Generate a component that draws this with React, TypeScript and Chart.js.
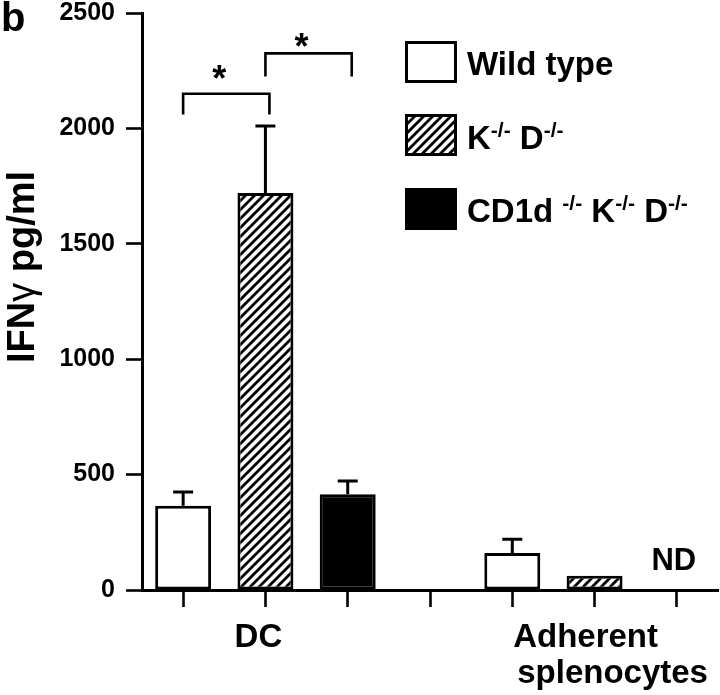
import React, { useEffect, useRef } from "react";
import { Chart, registerables } from "chart.js";

Chart.register(...registerables);

// ---------- data ----------
const categories = [
  "DC – Wild type",
  "DC – K-/- D-/-",
  "DC – CD1d -/- K-/- D-/-",
  "",
  "Adherent splenocytes – Wild type",
  "Adherent splenocytes – K-/- D-/-",
  "Adherent splenocytes – CD1d -/- K-/- D-/-",
];
const seriesNames = ["Wild type", "K-/- D-/-", "CD1d -/- K-/- D-/-"];
const wildType = [365, null, null, null, 160, null, null];
const wildTypeErr = [60, null, null, null, 60, null, null];
const kbDb = [null, 1720, null, null, null, 62, null];
const kbDbErr = [null, 290, null, null, null, 0, null];
const cd1dKbDb = [null, null, 415, null, null, null, null];
const cd1dKbDbErr = [null, null, 57, null, null, null, null];
const notDetectedSlots = [6];
const notDetectedText = "ND";
const groupLabelSlots = [1, 5];
const groupLabels = [["DC"], ["Adherent", "splenocytes"]];
const yTicks = [0, 500, 1000, 1500, 2000, 2500];
const yTitleParts = ["IFN", "γ", " pg/ml"];
const panelLetter = "b";
// significance brackets: from slot, to slot, bracket top, leg bottom, star centre (data units)
const sigFrom = [0, 1];
const sigTo = [1, 2];
const sigTop = [2150, 2325];
const sigBottom = [2060, 2225];
const sigStar = [2245, 2385];

const FONT = "'Liberation Sans', Arial, Helvetica, sans-serif";

function makeHatch(ctx: CanvasRenderingContext2D): CanvasPattern | string {
  const s = 9;
  const c = document.createElement("canvas");
  c.width = s;
  c.height = s;
  const g = c.getContext("2d")!;
  g.fillStyle = "#fff";
  g.fillRect(0, 0, s, s);
  g.strokeStyle = "#000";
  g.lineWidth = 2.8;
  g.beginPath();
  g.moveTo(-2, s + 2);
  g.lineTo(s + 2, -2);
  g.moveTo(-3, 3);
  g.lineTo(3, -3);
  g.moveTo(s - 3, s + 3);
  g.lineTo(s + 3, s - 3);
  g.stroke();
  return ctx.createPattern(c, "repeat") || "#888";
}

function splitSup(name: string) {
  const parts = name.split(/(-\/-)/).filter((p) => p !== "");
  return parts.map((p) => ({ t: p, sup: p === "-/-" }));
}

export default function App() {
  const ref = useRef<HTMLCanvasElement | null>(null);

  useEffect(() => {
    const canvas = ref.current!;
    const ctx0 = canvas.getContext("2d")!;
    const hatch = makeHatch(ctx0);
    const fills: (string | CanvasPattern)[] = ["#ffffff", hatch, "#000000"];
    const errs = [wildTypeErr, kbDbErr, cd1dKbDbErr];

    const errorBars = {
      id: "errorBars",
      afterDatasetsDraw(chart: any) {
        const ctx = chart.ctx;
        const y = chart.scales.y;
        ctx.save();
        ctx.strokeStyle = "#000";
        ctx.lineWidth = 3;
        chart.data.datasets.forEach((ds: any, di: number) => {
          const meta = chart.getDatasetMeta(di);
          ds.data.forEach((v: number | null, i: number) => {
            const e = errs[di][i];
            if (v == null || !e) return;
            const bar = meta.data[i];
            const top = y.getPixelForValue(v + e);
            ctx.beginPath();
            ctx.moveTo(bar.x, bar.y);
            ctx.lineTo(bar.x, top);
            ctx.moveTo(bar.x - 10, top);
            ctx.lineTo(bar.x + 10, top);
            ctx.stroke();
          });
        });
        ctx.restore();
      },
    };

    const decorations = {
      id: "decorations",
      afterDraw(chart: any) {
        const ctx: CanvasRenderingContext2D = chart.ctx;
        const x = chart.scales.x;
        const y = chart.scales.y;
        ctx.save();
        ctx.fillStyle = "#000";
        ctx.strokeStyle = "#000";

        // panel letter
        ctx.font = `bold 40px ${FONT}`;
        ctx.textAlign = "left";
        ctx.textBaseline = "alphabetic";
        ctx.fillText(panelLetter, 1, 31);

        // y title (rotated)
        ctx.save();
        ctx.translate(34, 363);
        ctx.rotate(-Math.PI / 2);
        let px = 0;
        yTitleParts.forEach((p, i) => {
          ctx.font = i === 1 ? `normal 38px ${FONT}` : `bold 38px ${FONT}`;
          ctx.fillText(p, px, 0);
          px += ctx.measureText(p).width;
        });
        ctx.restore();

        // x group labels
        ctx.font = `bold 33px ${FONT}`;
        ctx.textAlign = "center";
        const offs = [[-7], [-9, 18]];
        groupLabels.forEach((lines, gi) => {
          const cx = x.getPixelForValue(groupLabelSlots[gi]);
          lines.forEach((ln, li) => {
            ctx.fillText(ln, cx + offs[gi][li], 647 + li * 36);
          });
        });

        // ND
        ctx.font = `bold 31px ${FONT}`;
        notDetectedSlots.forEach((s) => {
          ctx.fillText(notDetectedText, x.getPixelForValue(s) - 3, 570);
        });

        // significance brackets
        ctx.lineWidth = 2.6;
        ctx.font = `bold 36px ${FONT}`;
        sigFrom.forEach((f, i) => {
          const x1 = x.getPixelForValue(f);
          const x2 = x.getPixelForValue(sigTo[i]) + 4;
          const yt = y.getPixelForValue(sigTop[i]);
          const yb = y.getPixelForValue(sigBottom[i]);
          ctx.beginPath();
          ctx.moveTo(x1, yb);
          ctx.lineTo(x1, yt);
          ctx.lineTo(x2, yt);
          ctx.lineTo(x2, yb);
          ctx.stroke();
          const ys = y.getPixelForValue(sigStar[i]);
          const m = ctx.measureText("*");
          const asc = m.actualBoundingBoxAscent;
          const desc = m.actualBoundingBoxDescent;
          ctx.textAlign = "center";
          ctx.fillText("*", (x1 + x2) / 2 - 7, ys + (asc - desc) / 2);
        });

        // legend
        const boxX = 405;
        const boxW = 52;
        const boxH = 42;
        const boxTops = [41, 114, 188];
        const baselines = [75, 149, 222];
        seriesNames.forEach((name, i) => {
          const top = boxTops[i];
          ctx.fillStyle = fills[i] as any;
          ctx.fillRect(boxX, top, boxW, boxH);
          ctx.lineWidth = 3;
          ctx.strokeStyle = "#000";
          ctx.strokeRect(boxX + 1.5, top + 1.5, boxW - 3, boxH - 3);
          ctx.fillStyle = "#000";
          ctx.textAlign = "left";
          let tx = 467;
          splitSup(name).forEach((seg) => {
            if (seg.sup) {
              ctx.font = `bold 21px ${FONT}`;
              ctx.fillText(seg.t, tx, baselines[i] - 12);
            } else {
              ctx.font = `bold 33px ${FONT}`;
              ctx.fillText(seg.t, tx, baselines[i]);
            }
            tx += ctx.measureText(seg.t).width;
          });
        });

        ctx.restore();
      },
    };

    const chart = new Chart(canvas, {
      type: "bar",
      data: {
        labels: categories,
        datasets: [
          { label: seriesNames[0], data: wildType, backgroundColor: fills[0] as any },
          { label: seriesNames[1], data: kbDb, backgroundColor: fills[1] as any },
          { label: seriesNames[2], data: cd1dKbDb, backgroundColor: fills[2] as any },
        ].map((d) => ({
          ...d,
          borderColor: "#000",
          borderWidth: 3,
          borderSkipped: false,
          grouped: false,
          barPercentage: 0.68,
          categoryPercentage: 1,
        })) as any,
      },
      options: {
        responsive: false,
        animation: false,
        events: [],
        layout: { padding: { top: 13, right: 2, left: 0, bottom: 0 } },
        plugins: {
          legend: { display: false },
          tooltip: { enabled: false },
          title: { display: false },
        },
        scales: {
          x: {
            type: "category",
            offset: true,
            grid: {
              offset: false,
              drawOnChartArea: false,
              drawTicks: true,
              tickLength: 17,
              tickWidth: 2.6,
              tickColor: "#000",
            },
            border: { display: true, color: "#000", width: 3 },
            ticks: { autoSkip: false, maxRotation: 0, callback: () => "", font: { size: 2 } },
            afterFit: (s: any) => {
              s.height = 105;
              s.paddingLeft = 0;
              s.paddingRight = 0;
            },
          },
          y: {
            min: 0,
            max: 2500,
            afterBuildTicks: (s: any) => {
              s.ticks = yTicks.map((v) => ({ value: v }));
            },
            grid: {
              drawOnChartArea: false,
              drawTicks: true,
              tickLength: 16,
              tickWidth: 2.6,
              tickColor: "#000",
            },
            border: { display: true, color: "#000", width: 3 },
            ticks: {
              color: "#000",
              padding: 11,
              callback: (v: any) => String(v),
              font: { family: FONT, weight: "bold", size: 25, lineHeight: 1 },
            },
            afterFit: (s: any) => {
              s.width = 142;
              s.paddingTop = 0;
              s.paddingBottom = 0;
            },
          },
        },
      } as any,
      plugins: [errorBars, decorations],
    });
    return () => chart.destroy();
  }, []);

  return (
    <div style={{ position: "absolute", left: 0, top: 0, width: 720, height: 695, background: "#fff" }}>
      <canvas ref={ref} width={720} height={695} style={{ display: "block" }} />
    </div>
  );
}
